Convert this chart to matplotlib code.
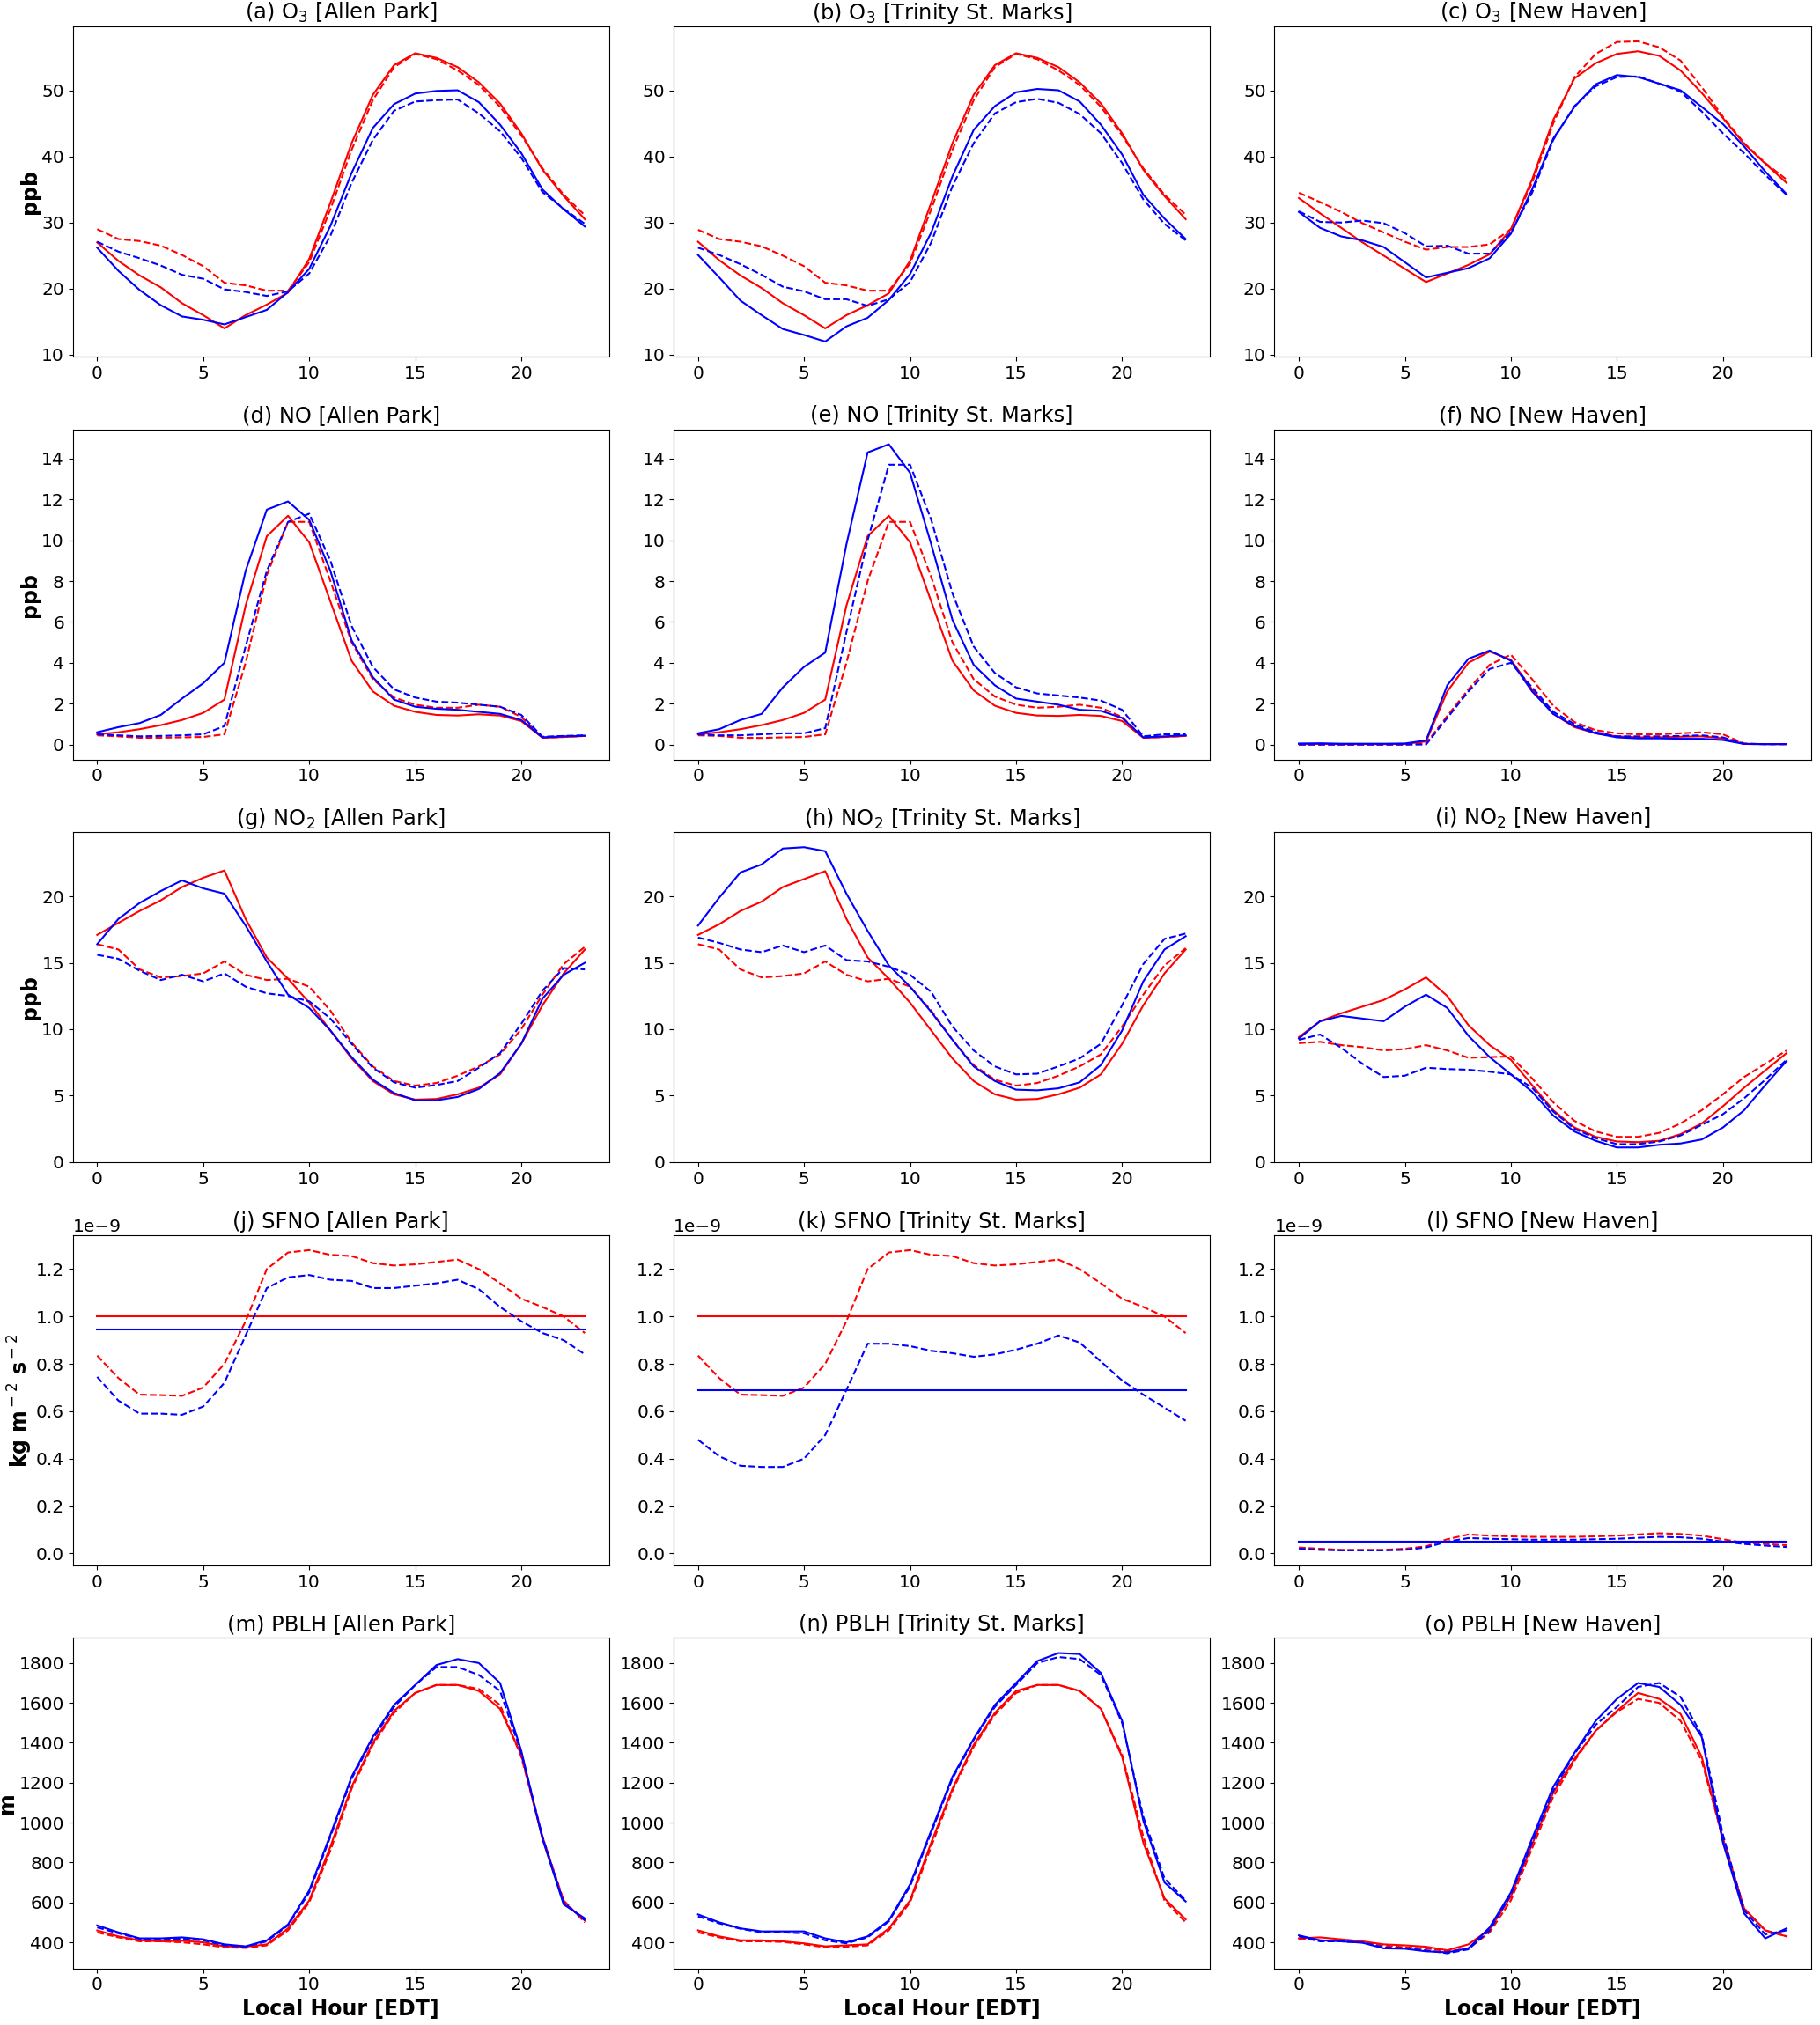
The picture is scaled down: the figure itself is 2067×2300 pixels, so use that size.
import matplotlib
matplotlib.use("Agg")
import matplotlib.pyplot as plt
import numpy as np

plt.rcParams['font.size'] = 14.5

hours = list(range(24))
sites = ["Allen Park", "Trinity St. Marks", "New Haven"]

# ---- O3 (ppb) ----
o3_red = [
    [27.0, 24.2, 22.0, 20.2, 17.8, 16.0, 14.0, 16.0, 17.6, 19.4, 24.5, 33.0, 42.0, 49.3, 53.8, 55.6, 54.9, 53.5, 51.2, 48.0, 43.5, 38.0, 34.0, 30.5],
    [27.1, 24.3, 22.0, 20.1, 17.8, 16.0, 14.0, 16.0, 17.5, 19.3, 24.2, 33.0, 42.0, 49.3, 53.8, 55.6, 54.9, 53.5, 51.2, 48.0, 43.5, 38.0, 34.0, 30.5],
    [33.7, 31.4, 29.2, 27.0, 25.0, 23.0, 21.0, 22.3, 23.6, 25.2, 29.0, 36.5, 45.5, 51.8, 54.1, 55.5, 55.9, 55.2, 53.0, 49.6, 45.8, 41.9, 38.9, 36.0],
]
o3_red_d = [
    [29.0, 27.5, 27.2, 26.5, 25.1, 23.4, 20.9, 20.5, 19.7, 19.7, 24.0, 32.0, 41.0, 48.5, 53.5, 55.5, 54.7, 53.0, 50.8, 47.5, 43.2, 38.2, 34.2, 31.1],
    [28.9, 27.5, 27.1, 26.4, 25.0, 23.4, 20.9, 20.5, 19.7, 19.7, 23.8, 32.0, 41.0, 48.5, 53.5, 55.5, 54.7, 53.0, 50.8, 47.5, 43.2, 38.2, 34.2, 31.2],
    [34.5, 33.1, 31.6, 29.9, 28.5, 27.1, 25.9, 26.3, 26.3, 26.7, 29.0, 36.0, 45.0, 52.0, 55.5, 57.3, 57.4, 56.5, 54.5, 50.5, 46.0, 42.0, 39.0, 36.5],
]
o3_blue = [
    [26.2, 22.7, 19.8, 17.5, 15.8, 15.3, 14.6, 15.7, 16.8, 19.5, 23.0, 29.5, 37.5, 44.3, 47.9, 49.5, 49.9, 50.0, 48.2, 44.8, 40.5, 35.0, 32.0, 29.4],
    [25.1, 21.7, 18.2, 16.0, 13.9, 13.0, 12.0, 14.3, 15.6, 18.3, 22.2, 28.5, 37.0, 44.0, 47.6, 49.7, 50.2, 50.0, 48.3, 44.8, 40.3, 34.2, 30.6, 27.5],
    [31.6, 29.2, 27.9, 27.3, 26.3, 24.0, 21.7, 22.4, 23.1, 24.6, 28.3, 35.0, 42.7, 47.5, 50.9, 52.3, 52.0, 51.0, 50.0, 47.5, 44.9, 41.5, 37.7, 34.3],
]
o3_blue_d = [
    [27.1, 25.6, 24.6, 23.5, 22.1, 21.5, 19.9, 19.5, 18.9, 19.6, 22.3, 28.0, 36.0, 42.5, 46.9, 48.3, 48.5, 48.6, 46.5, 43.8, 39.8, 34.6, 32.1, 29.8],
    [26.2, 25.1, 23.7, 22.1, 20.3, 19.6, 18.4, 18.4, 17.4, 18.4, 21.0, 27.0, 35.5, 42.0, 46.5, 48.2, 48.7, 48.1, 46.4, 43.5, 39.0, 33.5, 29.8, 27.3],
    [31.7, 30.1, 30.0, 30.3, 29.9, 28.4, 26.4, 26.5, 25.3, 25.3, 28.5, 34.5, 42.5, 47.6, 50.6, 52.0, 52.1, 51.0, 49.8, 46.8, 43.5, 40.5, 37.2, 34.2],
]

# ---- NO (ppb) ----
no_red = [
    [0.5, 0.6, 0.75, 0.95, 1.2, 1.55, 2.2, 6.8, 10.2, 11.2, 9.9, 7.0, 4.1, 2.6, 1.9, 1.6, 1.45, 1.42, 1.48, 1.42, 1.15, 0.33, 0.37, 0.42],
    [0.5, 0.6, 0.75, 0.95, 1.2, 1.55, 2.2, 6.8, 10.2, 11.2, 9.9, 7.0, 4.1, 2.65, 1.9, 1.55, 1.42, 1.4, 1.45, 1.4, 1.15, 0.33, 0.37, 0.42],
    [0.02, 0.03, 0.02, 0.02, 0.02, 0.03, 0.15, 2.6, 4.0, 4.55, 4.15, 2.7, 1.5, 0.85, 0.55, 0.4, 0.35, 0.35, 0.38, 0.4, 0.3, 0.03, 0.02, 0.02],
]
no_red_d = [
    [0.45, 0.4, 0.33, 0.33, 0.35, 0.37, 0.5, 4.0, 8.3, 10.9, 10.9, 8.0, 5.0, 3.2, 2.3, 1.95, 1.8, 1.8, 1.95, 1.85, 1.35, 0.33, 0.37, 0.42],
    [0.45, 0.42, 0.33, 0.32, 0.35, 0.37, 0.5, 4.0, 8.0, 10.9, 10.9, 8.2, 5.0, 3.2, 2.35, 1.95, 1.8, 1.85, 1.95, 1.8, 1.35, 0.33, 0.37, 0.42],
    [0.0, 0.0, 0.0, 0.0, 0.0, 0.0, 0.05, 1.4, 2.7, 3.9, 4.4, 3.2, 1.9, 1.1, 0.7, 0.55, 0.5, 0.5, 0.55, 0.6, 0.5, 0.05, 0.02, 0.02],
]
no_blue = [
    [0.6, 0.85, 1.05, 1.45, 2.25, 3.0, 4.0, 8.5, 11.5, 11.9, 11.0, 8.5, 5.1, 3.3, 2.2, 1.85, 1.75, 1.7, 1.6, 1.5, 1.2, 0.35, 0.4, 0.43],
    [0.55, 0.75, 1.2, 1.5, 2.8, 3.8, 4.5, 9.8, 14.3, 14.7, 13.3, 9.8, 6.1, 3.9, 2.9, 2.25, 2.1, 1.95, 1.7, 1.65, 1.3, 0.35, 0.4, 0.45],
    [0.05, 0.06, 0.04, 0.04, 0.04, 0.05, 0.2, 2.9, 4.2, 4.6, 4.1, 2.6, 1.5, 0.9, 0.55, 0.35, 0.3, 0.3, 0.28, 0.28, 0.22, 0.03, 0.02, 0.02],
]
no_blue_d = [
    [0.5, 0.45, 0.4, 0.42, 0.45, 0.5, 0.9, 4.8, 8.5, 10.9, 11.3, 9.0, 5.8, 3.8, 2.7, 2.3, 2.1, 2.05, 1.95, 1.85, 1.45, 0.38, 0.42, 0.45],
    [0.5, 0.45, 0.45, 0.5, 0.55, 0.55, 0.8, 5.5, 10.0, 13.7, 13.7, 11.0, 7.4, 4.8, 3.5, 2.8, 2.5, 2.4, 2.3, 2.15, 1.7, 0.4, 0.5, 0.5],
    [0.0, 0.0, 0.0, 0.0, 0.0, 0.0, 0.0, 1.3, 2.6, 3.7, 4.0, 2.8, 1.6, 1.0, 0.6, 0.4, 0.4, 0.4, 0.42, 0.45, 0.35, 0.03, 0.02, 0.02],
]

# ---- NO2 (ppb) ----
no2_red = [
    [17.1, 18.0, 18.9, 19.7, 20.7, 21.4, 21.95, 18.3, 15.4, 13.8, 12.0, 9.9, 7.8, 6.1, 5.1, 4.7, 4.75, 5.1, 5.6, 6.6, 8.9, 11.8, 14.2, 16.0],
    [17.1, 17.9, 18.9, 19.6, 20.7, 21.3, 21.9, 18.3, 15.4, 13.8, 12.0, 9.9, 7.8, 6.1, 5.1, 4.7, 4.75, 5.1, 5.6, 6.6, 8.9, 11.8, 14.2, 16.0],
    [9.4, 10.6, 11.2, 11.7, 12.2, 13.0, 13.9, 12.5, 10.3, 8.8, 7.7, 5.8, 3.9, 2.6, 1.9, 1.55, 1.5, 1.6, 2.1, 2.9, 4.2, 5.6, 6.9, 8.2],
]
no2_red_d = [
    [16.4, 16.0, 14.5, 13.9, 14.0, 14.2, 15.1, 14.1, 13.7, 13.8, 13.2, 11.4, 9.0, 7.2, 6.1, 5.75, 5.95, 6.5, 7.2, 8.1, 10.0, 12.6, 14.9, 16.2],
    [16.4, 16.0, 14.5, 13.9, 14.0, 14.2, 15.1, 14.1, 13.6, 13.8, 13.2, 11.4, 9.2, 7.3, 6.2, 5.75, 5.95, 6.5, 7.2, 8.1, 10.2, 12.6, 14.8, 16.1],
    [8.95, 9.05, 8.8, 8.65, 8.4, 8.5, 8.8, 8.4, 7.85, 7.9, 7.95, 6.3, 4.5, 3.1, 2.3, 1.9, 1.9, 2.2, 2.9, 3.9, 5.1, 6.4, 7.4, 8.4],
]
no2_blue = [
    [16.4, 18.3, 19.5, 20.4, 21.2, 20.6, 20.2, 17.8, 15.1, 12.6, 11.6, 9.9, 7.9, 6.2, 5.2, 4.65, 4.65, 4.9, 5.5, 6.7, 8.9, 12.3, 14.1, 15.0],
    [17.8, 19.9, 21.8, 22.4, 23.6, 23.7, 23.4, 20.2, 17.4, 14.8, 13.2, 11.3, 9.2, 7.2, 6.1, 5.45, 5.4, 5.55, 6.0, 7.3, 9.9, 13.6, 16.0, 17.0],
    [9.3, 10.6, 11.0, 10.8, 10.6, 11.7, 12.6, 11.6, 9.5, 7.9, 6.6, 5.3, 3.5, 2.3, 1.6, 1.1, 1.1, 1.3, 1.4, 1.7, 2.6, 3.9, 5.8, 7.6],
]
no2_blue_d = [
    [15.6, 15.3, 14.4, 13.7, 14.1, 13.6, 14.2, 13.2, 12.7, 12.5, 12.1, 10.8, 8.9, 7.1, 6.0, 5.6, 5.8, 6.1, 7.1, 8.2, 10.4, 12.9, 14.6, 14.5],
    [16.9, 16.5, 16.0, 15.8, 16.3, 15.8, 16.3, 15.2, 15.1, 14.7, 14.1, 12.8, 10.2, 8.4, 7.2, 6.6, 6.65, 7.2, 7.8, 8.9, 11.8, 14.9, 16.8, 17.2],
    [9.2, 9.6, 8.6, 7.4, 6.4, 6.5, 7.1, 7.0, 6.95, 6.8, 6.6, 5.6, 3.8, 2.5, 1.8, 1.35, 1.35, 1.55, 2.0, 2.8, 3.6, 4.8, 6.2, 7.7],
]

# ---- SFNO (1e-9 kg m-2 s-2) ----
sfno_red = [1.0, 1.0, 0.05]
sfno_blue = [0.945, 0.69, 0.048]
sfno_red_d = [
    [0.835, 0.74, 0.67, 0.668, 0.665, 0.70, 0.80, 0.98, 1.20, 1.27, 1.28, 1.26, 1.255, 1.225, 1.215, 1.22, 1.23, 1.24, 1.20, 1.14, 1.075, 1.04, 1.0, 0.93],
    [0.835, 0.74, 0.67, 0.668, 0.665, 0.70, 0.80, 0.98, 1.20, 1.27, 1.28, 1.26, 1.255, 1.225, 1.215, 1.22, 1.23, 1.24, 1.20, 1.14, 1.075, 1.04, 1.0, 0.93],
    [0.025, 0.02, 0.015, 0.015, 0.015, 0.02, 0.03, 0.06, 0.08, 0.075, 0.072, 0.07, 0.07, 0.07, 0.072, 0.075, 0.08, 0.085, 0.082, 0.075, 0.06, 0.045, 0.04, 0.035],
]
sfno_blue_d = [
    [0.745, 0.645, 0.59, 0.59, 0.585, 0.62, 0.72, 0.92, 1.12, 1.165, 1.175, 1.155, 1.15, 1.12, 1.12, 1.13, 1.14, 1.155, 1.115, 1.04, 0.98, 0.93, 0.90, 0.84],
    [0.48, 0.41, 0.37, 0.365, 0.365, 0.40, 0.50, 0.69, 0.885, 0.885, 0.875, 0.855, 0.845, 0.83, 0.84, 0.86, 0.885, 0.92, 0.89, 0.81, 0.73, 0.67, 0.615, 0.56],
    [0.02, 0.015, 0.013, 0.013, 0.013, 0.015, 0.025, 0.05, 0.065, 0.062, 0.06, 0.058, 0.058, 0.058, 0.06, 0.062, 0.066, 0.07, 0.068, 0.062, 0.05, 0.04, 0.033, 0.027],
]

# ---- PBLH (m) ----
pblh_red = [
    [460, 430, 410, 405, 408, 400, 380, 378, 390, 470, 610, 880, 1180, 1400, 1560, 1650, 1690, 1690, 1660, 1570, 1340, 920, 600, 510],
    [460, 430, 410, 410, 405, 395, 380, 385, 390, 470, 610, 900, 1170, 1390, 1550, 1660, 1690, 1690, 1660, 1570, 1330, 900, 620, 515],
    [420, 425, 415, 405, 390, 385, 378, 360, 390, 465, 630, 890, 1150, 1320, 1460, 1560, 1650, 1620, 1545, 1330, 920, 570, 460, 430],
]
pblh_red_d = [
    [450, 425, 405, 405, 400, 390, 375, 372, 385, 460, 600, 860, 1170, 1390, 1550, 1650, 1690, 1690, 1670, 1590, 1330, 930, 610, 500],
    [450, 425, 405, 405, 402, 390, 375, 378, 385, 460, 600, 880, 1160, 1380, 1540, 1650, 1690, 1690, 1660, 1570, 1340, 930, 610, 500],
    [418, 410, 405, 400, 385, 375, 370, 355, 370, 450, 610, 870, 1130, 1310, 1460, 1555, 1620, 1600, 1510, 1310, 920, 570, 460, 430],
]
pblh_blue = [
    [485, 450, 420, 420, 425, 415, 390, 380, 410, 490, 660, 940, 1230, 1430, 1590, 1690, 1790, 1820, 1800, 1700, 1360, 920, 590, 520],
    [540, 500, 470, 455, 455, 455, 420, 400, 430, 510, 690, 960, 1230, 1420, 1590, 1700, 1810, 1850, 1845, 1750, 1510, 1010, 700, 605],
    [435, 410, 405, 398, 370, 368, 355, 350, 370, 475, 650, 920, 1180, 1350, 1510, 1620, 1700, 1680, 1590, 1430, 900, 545, 420, 470],
]
pblh_blue_d = [
    [475, 445, 418, 418, 418, 410, 385, 378, 405, 485, 650, 930, 1220, 1420, 1580, 1690, 1780, 1780, 1740, 1660, 1350, 930, 600, 510],
    [530, 495, 468, 450, 450, 445, 410, 395, 425, 505, 680, 950, 1220, 1415, 1580, 1690, 1800, 1830, 1820, 1740, 1500, 1030, 720, 610],
    [430, 405, 405, 400, 375, 370, 360, 345, 365, 460, 640, 900, 1160, 1345, 1490, 1580, 1680, 1700, 1630, 1440, 940, 560, 440, 460],
]

sfno_scale = 1e-9
rows = [
    ("O$_3$", o3_red, o3_red_d, o3_blue, o3_blue_d, "ppb"),
    ("NO", no_red, no_red_d, no_blue, no_blue_d, "ppb"),
    ("NO$_2$", no2_red, no2_red_d, no2_blue, no2_blue_d, "ppb"),
    ("SFNO",
     [[v * sfno_scale] * 24 for v in sfno_red],
     [np.array(s) * sfno_scale for s in sfno_red_d],
     [[v * sfno_scale] * 24 for v in sfno_blue],
     [np.array(s) * sfno_scale for s in sfno_blue_d],
     r"kg m$^-$$^2$ s$^-$$^2$"),
    ("PBLH", pblh_red, pblh_red_d, pblh_blue, pblh_blue_d, "m"),
]
letters = "abcdefghijklmno"

fig, axes = plt.subplots(5, 3, figsize=(20.67, 23), sharey='row')
fig.subplots_adjust(left=0.040, right=0.995, top=0.987, bottom=0.028,
                    wspace=0.12, hspace=0.22)

for i, (name, r, rd, b, bd, unit) in enumerate(rows):
    for j, site in enumerate(sites):
        ax = axes[i, j]
        ax.plot(hours, r[j], c='red')
        ax.plot(hours, rd[j], c='red', ls='--')
        ax.plot(hours, b[j], c='blue')
        ax.plot(hours, bd[j], c='blue', ls='--')
        ax.set_title("(%s) %s [%s]" % (letters[i * 3 + j], name, site))
        ax.set_xticks([0, 5, 10, 15, 20])
        ax.yaxis.set_tick_params(labelleft=True)
        if j == 0:
            ax.set_ylabel(unit, fontweight='bold', fontsize=17, labelpad=1)
        if i == 4:
            ax.set_xlabel("Local Hour [EDT]", fontweight='bold', fontsize=17)

fig.savefig("out.png", dpi=100)
